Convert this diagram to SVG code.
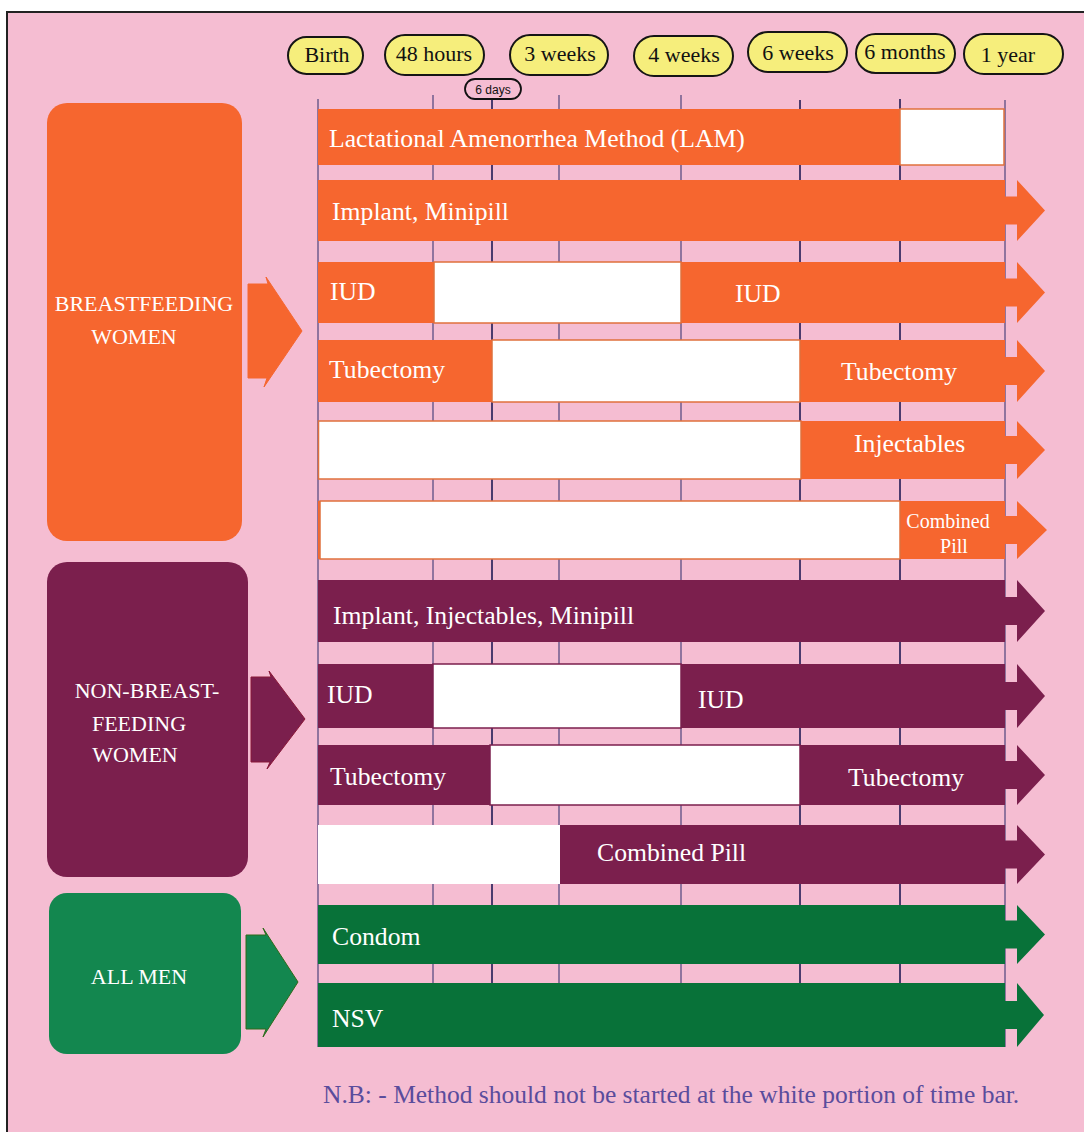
<svg xmlns="http://www.w3.org/2000/svg" width="1084" height="1132" viewBox="0 0 1084 1132">
<style>
.pill{fill:#F6EE7C;stroke:#151515;stroke-width:2}
.pt{font-family:"Liberation Serif",serif;font-size:22px;fill:#111;text-anchor:middle}
.grid{stroke:#6E5C8C;stroke-width:1.5}
.gridd{stroke:#4B3B6E;stroke-width:2}
.or{fill:#F6662F}
.pu{fill:#7B1F4D}
.gr{fill:#087239}
.wo{fill:#fff;stroke:#E0703C;stroke-width:1.5}
.wp{fill:#fff;stroke:#7B1F4D;stroke-width:1.5}
.bt{font-family:"Liberation Serif",serif;font-size:25.7px;fill:#fff}
.st{font-family:"Liberation Serif",serif;font-size:20px;fill:#fff;text-anchor:middle}
.nt{font-family:"Liberation Serif",serif;font-size:22px;fill:#fff;text-anchor:middle}
.nb{font-family:"Liberation Serif",serif;font-size:25.5px;fill:#5A4C9C}
.sd{font-family:"Liberation Sans",sans-serif;font-size:12px;fill:#111;text-anchor:middle}
</style>
<rect x="7" y="12" width="1090" height="1130" fill="#F5BDD2" stroke="#222" stroke-width="2"/>

<g id="timeline">
<g id="t-birth"><rect class="pill" x="288" y="37" width="75" height="37" rx="18.5"/><text class="pt" x="327" y="62">Birth</text></g>
<g id="t-48h"><rect class="pill" x="385" y="35" width="99" height="40" rx="20"/><text class="pt" x="434" y="61">48 hours</text></g>
<g id="t-3w"><rect class="pill" x="510" y="35" width="98" height="40" rx="20"/><text class="pt" x="560" y="61">3 weeks</text></g>
<g id="t-4w"><rect class="pill" x="634" y="36" width="99" height="40" rx="20"/><text class="pt" x="684" y="62">4 weeks</text></g>
<g id="t-6w"><rect class="pill" x="748" y="32" width="99" height="40" rx="20"/><text class="pt" x="798" y="60">6 weeks</text></g>
<g id="t-6m"><rect class="pill" x="856" y="34" width="99" height="39" rx="19.5"/><text class="pt" x="905" y="59">6 months</text></g>
<g id="t-1y"><rect class="pill" x="964" y="34" width="99" height="40" rx="20"/><text class="pt" x="1008" y="62">1 year</text></g>
</g>

<g id="gridlines">
<line class="grid" x1="318" y1="99" x2="318" y2="1047"/>
<line class="grid" x1="433" y1="95" x2="433" y2="1047"/>
<line class="gridd" x1="492" y1="99" x2="492" y2="1047"/>
<line class="grid" x1="559" y1="95" x2="559" y2="1047"/>
<line class="grid" x1="681" y1="95" x2="681" y2="1047"/>
<line class="gridd" x1="800" y1="100" x2="800" y2="1047"/>
<line class="gridd" x1="900" y1="99" x2="900" y2="1047"/>
<line class="grid" x1="1005" y1="100" x2="1005" y2="1047"/>
</g>

<g id="t-6days"><rect x="465" y="79" width="56" height="20" rx="10" fill="#F5BDD2" stroke="#111" stroke-width="1.8"/><text class="sd" x="493" y="93.5">6 days</text></g>

<g id="bf-lam"><rect class="or" x="318" y="109" width="582" height="56"/><rect class="wo" x="900" y="109" width="104" height="56"/><text class="bt" x="329" y="147">Lactational Amenorrhea Method (LAM)</text></g>
<g id="bf-implant"><path class="or" d="M318,180 H1005 V196.5 H1017 V180 L1045,210.5 L1017,241 V224.5 H1005 V241 H318 Z"/><text class="bt" x="332" y="220">Implant, Minipill</text></g>
<g id="bf-iud"><path class="or" d="M318,262 H1005 V278.5 H1017 V262 L1045,292.5 L1017,323 V306.5 H1005 V323 H318 Z"/><rect class="wo" x="434" y="262" width="247" height="61"/><text class="bt" x="330" y="300">IUD</text><text class="bt" x="735" y="302">IUD</text></g>
<g id="bf-tub"><path class="or" d="M318,340 H1005 V357 H1017 V340 L1045,371 L1017,402 V385 H1005 V402 H318 Z"/><rect class="wo" x="492" y="340" width="308" height="62"/><text class="bt" x="329" y="378">Tubectomy</text><text class="bt" x="841" y="380">Tubectomy</text></g>
<g id="bf-inj"><path class="or" d="M318,421 H1005 V436 H1017 V421 L1045,450 L1017,479 V464 H1005 V479 H318 Z"/><rect class="wo" x="318.5" y="421" width="482.5" height="58"/><text class="bt" x="854" y="452">Injectables</text></g>
<g id="bf-cp"><path class="or" d="M318,501 H1005 V516 H1017 V501 L1047,530 L1017,559 V544 H1005 V559 H318 Z"/><rect class="wo" x="320" y="501" width="580" height="58"/><text class="st" x="948" y="528">Combined</text><text class="st" x="954" y="553">Pill</text></g>

<g id="nbf-implant"><path class="pu" d="M318,580 H1005 V597 H1017 V580 L1045,611 L1017,642 V625 H1005 V642 H318 Z"/><text class="bt" x="333" y="624">Implant, Injectables, Minipill</text></g>
<g id="nbf-iud"><path class="pu" d="M318,664 H1005 V682 H1017 V664 L1045,696 L1017,728 V710 H1005 V728 H318 Z"/><rect class="wp" x="433" y="664" width="248" height="64"/><text class="bt" x="327" y="703">IUD</text><text class="bt" x="698" y="708">IUD</text></g>
<g id="nbf-tub"><path class="pu" d="M318,745 H1005 V761 H1017 V745 L1045,775 L1017,805 V789 H1005 V805 H318 Z"/><rect class="wp" x="490" y="745" width="310" height="60"/><text class="bt" x="330" y="785">Tubectomy</text><text class="bt" x="848" y="786">Tubectomy</text></g>
<g id="nbf-cp"><path class="pu" d="M318,825 H1005 V840.5 H1017 V825 L1045,854.5 L1017,884 V868.5 H1005 V884 H318 Z"/><rect x="318" y="825" width="242" height="59" fill="#fff"/><text class="bt" x="597" y="861">Combined Pill</text></g>

<g id="men-condom"><path class="gr" d="M318,905 H1005 V920.5 H1017 V905 L1045,934.5 L1017,964 V948.5 H1005 V964 H318 Z"/><text class="bt" x="332" y="945">Condom</text></g>
<g id="men-nsv"><path class="gr" d="M318,983 H1005 V1001 H1017 V983 L1044,1015 L1017,1047 V1029 H1005 V1047 H318 Z"/><text class="bt" x="332" y="1027">NSV</text></g>

<g id="breastfeeding"><rect x="47" y="103" width="195" height="438" rx="20" fill="#F6662F"/><text class="nt" x="144" y="311">BREASTFEEDING</text><text class="nt" x="134" y="344">WOMEN</text></g>
<g id="non-breastfeeding"><rect x="47" y="562" width="201" height="315" rx="20" fill="#7B1F4D"/><text class="nt" x="147" y="698">NON-BREAST-</text><text class="nt" x="139" y="731">FEEDING</text><text class="nt" x="135" y="762">WOMEN</text></g>
<g id="all-men"><rect x="49" y="893" width="192" height="161" rx="18" fill="#13874F"/><text class="nt" x="139" y="984">ALL MEN</text></g>

<g id="connectors">
<polygon points="248,284 268,284 266,277 302,331 264,387 267,378 248,378" fill="#F6662F" stroke="#F6662F" stroke-width="1"/>
<polygon points="251,677 271,677 269,671 305,719 267,769 270,762 251,762" fill="#7B1F4D" stroke="#8A1838" stroke-width="1"/>
<polygon points="246,935 266,935 263,928 298,982 263,1037 266,1029 246,1029" fill="#13874F" stroke="#2F6A1A" stroke-width="1"/>
</g>

<text class="nb" x="323" y="1103">N.B: - Method should not be started at the white portion of time bar.</text>
</svg>
